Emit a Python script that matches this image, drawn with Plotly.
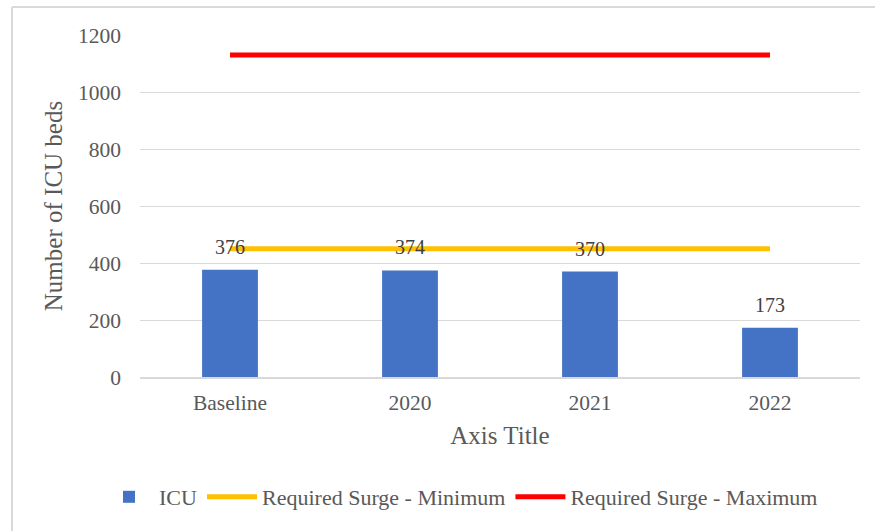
import plotly.graph_objects as go

categories = ["Baseline", "2020", "2021", "2022"]
icu_beds = [376, 374, 370, 173]
surge_min = [450, 450, 450, 450]
surge_max = [1130, 1130, 1130, 1130]
y_ticks = [0, 200, 400, 600, 800, 1000, 1200]

FONT = "Liberation Serif, Times New Roman, serif"
TXT = "#595959"

fig = go.Figure()
fig.add_trace(go.Bar(
    x=categories, y=icu_beds, name="ICU",
    marker=dict(color="#4472C4", line=dict(width=0)),
    width=0.31,
))
fig.add_trace(go.Scatter(
    x=categories, y=surge_min, name="Required Surge - Minimum",
    mode="lines", line=dict(color="#FFC000", width=5),
))
fig.add_trace(go.Scatter(
    x=categories, y=surge_max, name="Required Surge - Maximum",
    mode="lines", line=dict(color="#FF0000", width=5),
))

for i, v in enumerate(icu_beds):
    fig.add_annotation(x=i, y=v, xref="x", yref="y", text=str(v),
                       showarrow=False, yanchor="middle", yshift=23,
                       font=dict(family=FONT, size=20, color="#404040"))

L, R, T, B = 140, 15, 35, 154
W, H = 875, 531
pw, ph = W - L - R, H - T - B

def px(x):
    return (x - L) / pw

def py(y):
    return (H - B - y) / ph

# outer chart border (left and top visible)
fig.add_shape(type="line", xref="paper", yref="paper",
              x0=px(12), x1=px(880), y0=py(7), y1=py(7),
              line=dict(color="#D9D9D9", width=2))
fig.add_shape(type="line", xref="paper", yref="paper",
              x0=px(12), x1=px(12), y0=py(7), y1=py(540),
              line=dict(color="#D9D9D9", width=2))

fig.update_layout(
    width=W, height=H,
    margin=dict(l=L, r=R, t=T, b=B, autoexpand=False),
    paper_bgcolor="white", plot_bgcolor="white",
    font=dict(family=FONT, color=TXT, size=21),
    showlegend=True,
    legend=dict(orientation="h", x=px(461), xanchor="center",
                y=py(497), yanchor="middle",
                font=dict(family=FONT, size=22, color=TXT),
                itemwidth=50, tracegroupgap=0),
)
fig.update_xaxes(
    type="category", range=[-0.5, 3.5],
    showgrid=False, showline=True, linecolor="#D9D9D9", linewidth=2,
    ticks="", ticklabelstandoff=5,
    tickfont=dict(family=FONT, size=21.5, color=TXT),
    title=dict(text="Axis Title", font=dict(family=FONT, size=25, color=TXT), standoff=13),
)
fig.update_yaxes(
    range=[0, 1200], tickvals=y_ticks,
    showgrid=True, gridcolor="#D9D9D9", gridwidth=1,
    zeroline=False, showline=False, ticks="",
    ticklabelstandoff=18,
    tickfont=dict(family=FONT, size=21.5, color=TXT),
    title=dict(text="Number of ICU beds", font=dict(family=FONT, size=25, color=TXT), standoff=8),
)

fig.write_html("out.html")
